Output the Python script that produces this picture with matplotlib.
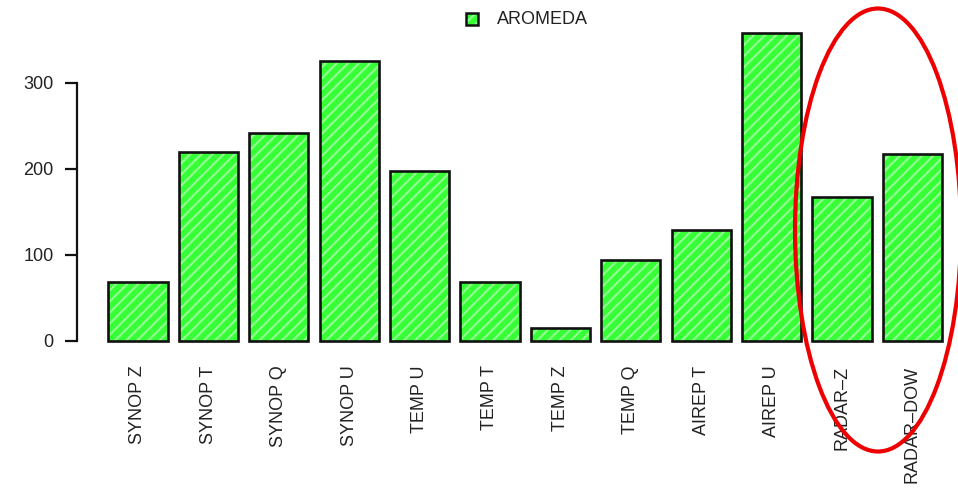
import matplotlib
matplotlib.use("Agg")
import matplotlib.pyplot as plt
from matplotlib.patches import Ellipse, Rectangle

categories = ["SYNOP Z", "SYNOP T", "SYNOP Q", "SYNOP U", "TEMP U", "TEMP T",
              "TEMP Z", "TEMP Q", "AIREP T", "AIREP U", "RADAR\u2013Z", "RADAR\u2013DOW"]
aromeda = [68, 220, 242, 325, 198, 68, 15, 94, 129, 358, 167, 217]
yticks = [0, 100, 200, 300]
series_name = "AROMEDA"

W, H = 958, 492
DPI = 100
plt.rcParams["font.family"] = ["Liberation Sans", "DejaVu Sans"]
plt.rcParams["hatch.linewidth"] = 1.6
fig = plt.figure(figsize=(W / DPI, H / DPI), dpi=DPI)

# plot region in pixel coordinates
left_px, right_px = 77, 958
bottom_px, top_px = 353, 21
ax = fig.add_axes([left_px / W, 1 - bottom_px / H,
                   (right_px - left_px) / W, (bottom_px - top_px) / H])

x = list(range(len(categories)))
face = "#36ff36"
stripe = "#90ff90"
ax.bar(x, aromeda, width=0.84, color=face, edgecolor=stripe, hatch="///",
       linewidth=0, zorder=2)
ax.bar(x, aromeda, width=0.84, fill=False, edgecolor="#111111",
       linewidth=1.9, zorder=3)

unit = 70.4
ax.set_xlim(-(138 - left_px) / unit, -(138 - left_px) / unit + (right_px - left_px) / unit)
ax.set_ylim(-14, 372)

for s in ["top", "right", "bottom"]:
    ax.spines[s].set_visible(False)
ax.spines["left"].set_bounds(0, 300)
ax.spines["left"].set_linewidth(1.6)
ax.spines["left"].set_color("#111111")

ax.set_yticks(yticks)
ax.set_yticklabels([str(v) for v in yticks], fontsize=13, color="#222222")
ax.tick_params(axis="y", length=9, width=1.6, pad=8, color="#111111")

ax.set_xticks(x)
ax.set_xticklabels(categories, rotation=90, fontsize=13, color="#222222",
                   va="top", ha="center")
ax.tick_params(axis="x", length=0, pad=9)

# legend key and label
key_pos = (466 / W, 1 - 25 / H)
key_size = (12 / W, 12 / H)
fig.patches.append(Rectangle(key_pos, *key_size, transform=fig.transFigure,
                             facecolor=face, edgecolor=stripe, linewidth=0, hatch="///"))
fig.patches.append(Rectangle(key_pos, *key_size, transform=fig.transFigure,
                             fill=False, edgecolor="#111111", linewidth=1.8))
fig.text(497 / W, 1 - 19 / H, series_name, fontsize=13, color="#222222",
         va="center", ha="left")

# highlight around the radar observations
ell = Ellipse((878 / W, 1 - 230 / H), 166 / W, 443 / H, transform=fig.transFigure,
              fill=False, edgecolor="#ee0000", linewidth=3, zorder=10)
fig.patches.append(ell)

fig.savefig("out.png", dpi=DPI)
